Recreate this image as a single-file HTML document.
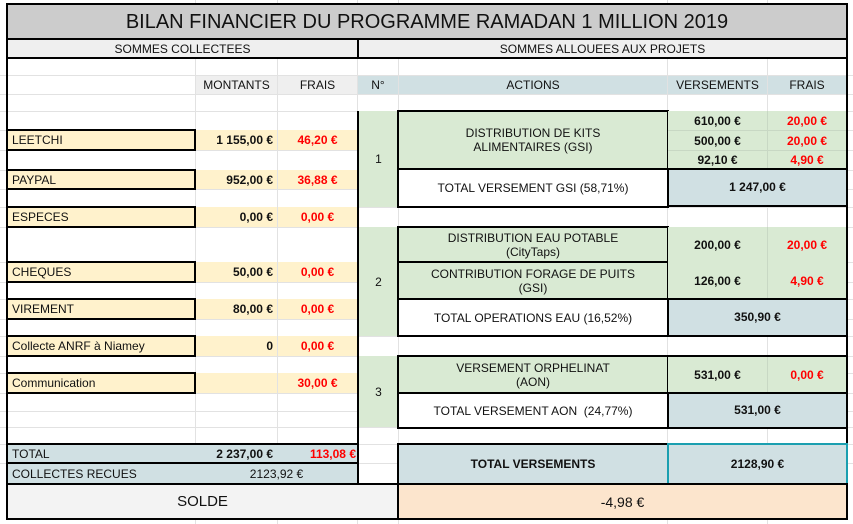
<!DOCTYPE html>
<html><head><meta charset="utf-8"><style>
body{margin:0;width:853px;height:524px;background:#fff;position:relative;overflow:hidden;font-family:"Liberation Sans",sans-serif;font-size:12px;color:#111}
div{position:absolute;box-sizing:border-box}
.c{display:flex;align-items:center;justify-content:center;text-align:center;line-height:14px}
.l{justify-content:flex-start;padding-left:4px}
.r{justify-content:flex-end;padding-right:4px}
.b{font-weight:bold}
.red{color:#f00;font-weight:bold}
.cr{background:#fff2cc}
.gr{background:#d9ead3}
.bl{background:#d0e0e3}
.lg{background:#efefef}
.k{border:2px solid #000}
.hl{height:1px;left:0;width:853px;background:#e2e2e2}
.vl{width:1px;top:0;height:524px;background:#e2e2e2}
</style></head><body>
<!-- grid -->
<div class="hl" style="top:75px"></div><div class="hl" style="top:94px"></div><div class="hl" style="top:111px"></div>
<div class="hl" style="top:130px"></div><div class="hl" style="top:150px"></div><div class="hl" style="top:170px"></div>
<div class="hl" style="top:189px"></div><div class="hl" style="top:207px"></div><div class="hl" style="top:227px"></div>
<div class="hl" style="top:262px"></div><div class="hl" style="top:282px"></div><div class="hl" style="top:299px"></div>
<div class="hl" style="top:319px"></div><div class="hl" style="top:336px"></div><div class="hl" style="top:356px"></div>
<div class="hl" style="top:373px"></div><div class="hl" style="top:393px"></div><div class="hl" style="top:411px"></div>
<div class="hl" style="top:427px"></div><div class="hl" style="top:444px"></div><div class="hl" style="top:463px"></div>
<div class="vl" style="left:195px"></div><div class="vl" style="left:277px"></div><div class="vl" style="left:357px"></div>
<div class="vl" style="left:398px"></div><div class="vl" style="left:667px"></div><div class="vl" style="left:767px"></div>

<!-- title -->
<div class="c k" style="left:6px;top:3px;width:842px;height:37px;background:#ccc;font-size:20px">BILAN FINANCIER DU PROGRAMME RAMADAN 1 MILLION 2019</div>
<div class="c k lg" style="left:6px;top:38px;width:353px;height:21px">SOMMES COLLECTEES</div>
<div class="c k lg" style="left:357px;top:38px;width:491px;height:21px">SOMMES ALLOUEES AUX PROJETS</div>
<!-- outer border -->
<div style="left:6px;top:57px;width:2px;height:463px;background:#000"></div>
<div style="left:846px;top:57px;width:2px;height:463px;background:#000"></div>

<!-- headers -->
<div class="c lg" style="left:196px;top:76px;width:81px;height:18px">MONTANTS</div>
<div class="c lg" style="left:278px;top:76px;width:79px;height:18px">FRAIS</div>
<div class="c bl" style="left:358px;top:76px;width:40px;height:18px">N°</div>
<div class="c bl" style="left:399px;top:76px;width:268px;height:18px">ACTIONS</div>
<div class="c bl" style="left:668px;top:76px;width:99px;height:18px">VERSEMENTS</div>
<div class="c bl" style="left:768px;top:76px;width:78px;height:18px">FRAIS</div>

<!-- left rows -->
<div class="c l cr k" style="left:6px;top:129px;width:190px;height:22px">LEETCHI</div>
<div class="c r b cr" style="left:196px;top:130px;width:81px;height:20px">1 155,00 €</div>
<div class="c red cr" style="left:278px;top:130px;width:79px;height:20px">46,20 €</div>
<div class="c l cr k" style="left:6px;top:169px;width:190px;height:21px">PAYPAL</div>
<div class="c r b cr" style="left:196px;top:170px;width:81px;height:19px">952,00 €</div>
<div class="c red cr" style="left:278px;top:170px;width:79px;height:19px">36,88 €</div>
<div class="c l cr k" style="left:6px;top:206px;width:190px;height:22px">ESPECES</div>
<div class="c r b cr" style="left:196px;top:207px;width:81px;height:20px">0,00 €</div>
<div class="c red cr" style="left:278px;top:207px;width:79px;height:20px">0,00 €</div>
<div class="c l cr k" style="left:6px;top:261px;width:190px;height:22px">CHEQUES</div>
<div class="c r b cr" style="left:196px;top:262px;width:81px;height:20px">50,00 €</div>
<div class="c red cr" style="left:278px;top:262px;width:79px;height:20px">0,00 €</div>
<div class="c l cr k" style="left:6px;top:298px;width:190px;height:22px">VIREMENT</div>
<div class="c r b cr" style="left:196px;top:299px;width:81px;height:20px">80,00 €</div>
<div class="c red cr" style="left:278px;top:299px;width:79px;height:20px">0,00 €</div>
<div class="c l cr k" style="left:6px;top:335px;width:190px;height:22px">Collecte ANRF à Niamey</div>
<div class="c r b cr" style="left:196px;top:336px;width:81px;height:20px">0</div>
<div class="c red cr" style="left:278px;top:336px;width:79px;height:20px">0,00 €</div>
<div class="c l cr k" style="left:6px;top:372px;width:190px;height:22px">Communication</div>
<div class="c r b cr" style="left:196px;top:373px;width:81px;height:20px"></div>
<div class="c red cr" style="left:278px;top:373px;width:79px;height:20px">30,00 €</div>

<!-- totals left -->
<div class="bl" style="left:6px;top:443px;width:353px;height:42px;border:2px solid #000"></div>
<div style="left:6px;top:462px;width:353px;height:2px;background:#000"></div>
<div class="c l" style="left:8px;top:445px;width:187px;height:18px">TOTAL</div>
<div class="c r b" style="left:196px;top:445px;width:81px;height:18px">2 237,00 €</div>
<div class="c r red" style="left:278px;top:445px;width:79px;height:18px;padding-right:1px">113,08 €</div>
<div class="c l" style="left:8px;top:464px;width:187px;height:19px">COLLECTES RECUES</div>
<div class="c" style="left:196px;top:464px;width:161px;height:19px">2123,92 €</div>
<div style="left:357px;top:111px;width:2px;height:374px;background:#000"></div>

<!-- group 1 -->
<div class="c gr" style="left:359px;top:111px;width:39px;height:96px">1</div>
<div class="c gr k" style="left:397px;top:110px;width:272px;height:60px">DISTRIBUTION DE KITS<br>ALIMENTAIRES (GSI)</div>
<div class="gr" style="left:668px;top:111px;width:178px;height:57px"></div>
<div class="hl" style="left:668px;top:130px;width:178px;background:#c8d8c4"></div>
<div class="hl" style="left:668px;top:150px;width:178px;background:#c8d8c4"></div>
<div class="vl" style="left:767px;top:111px;height:57px;background:#c8d8c4"></div>
<div class="c b" style="left:668px;top:111px;width:99px;height:19px">610,00 €</div>
<div class="c red" style="left:768px;top:111px;width:78px;height:19px">20,00 €</div>
<div class="c b" style="left:668px;top:131px;width:99px;height:19px">500,00 €</div>
<div class="c red" style="left:768px;top:131px;width:78px;height:19px">20,00 €</div>
<div class="c b" style="left:668px;top:151px;width:99px;height:17px">92,10 €</div>
<div class="c red" style="left:768px;top:151px;width:78px;height:17px">4,90 €</div>
<div class="c k" style="left:397px;top:168px;width:272px;height:40px;background:#fff">TOTAL VERSEMENT GSI (58,71%)</div>
<div class="c b bl" style="left:669px;top:169px;width:177px;height:38px;border-bottom:2px solid #000">1 247,00 €</div>
<div style="left:667px;top:168px;width:181px;height:2px;background:#000"></div>

<!-- group 2 -->
<div class="c gr" style="left:359px;top:227px;width:39px;height:109px">2</div>
<div class="c gr k" style="left:397px;top:226px;width:272px;height:37px">DISTRIBUTION EAU POTABLE<br>(CityTaps)</div>
<div class="c gr k" style="left:397px;top:261px;width:272px;height:39px">CONTRIBUTION FORAGE DE PUITS<br>(GSI)</div>
<div class="gr" style="left:668px;top:227px;width:178px;height:71px"></div>
<div class="vl" style="left:767px;top:227px;height:71px;background:#c8d8c4"></div>
<div class="c b" style="left:668px;top:227px;width:99px;height:36px">200,00 €</div>
<div class="c red" style="left:768px;top:227px;width:78px;height:36px">20,00 €</div>
<div class="c b" style="left:668px;top:263px;width:99px;height:35px">126,00 €</div>
<div class="c red" style="left:768px;top:263px;width:78px;height:35px">4,90 €</div>
<div class="c k" style="left:397px;top:298px;width:272px;height:39px;background:#fff">TOTAL OPERATIONS EAU (16,52%)</div>
<div class="c b bl" style="left:669px;top:299px;width:177px;height:38px;border-bottom:2px solid #000">350,90 €</div>
<div style="left:667px;top:298px;width:181px;height:2px;background:#000"></div>

<!-- group 3 -->
<div class="c gr" style="left:359px;top:356px;width:39px;height:71px">3</div>
<div class="c gr k" style="left:397px;top:355px;width:272px;height:39px">VERSEMENT ORPHELINAT<br>(AON)</div>
<div class="gr" style="left:668px;top:356px;width:178px;height:37px"></div>
<div class="vl" style="left:767px;top:356px;height:37px;background:#c8d8c4"></div>
<div class="c b" style="left:668px;top:356px;width:99px;height:37px">531,00 €</div>
<div class="c red" style="left:768px;top:356px;width:78px;height:37px">0,00 €</div>
<div class="c k" style="left:397px;top:392px;width:272px;height:37px;background:#fff">TOTAL VERSEMENT AON&nbsp; (24,77%)</div>
<div class="c b bl" style="left:669px;top:393px;width:177px;height:36px;border-bottom:2px solid #000">531,00 €</div>
<div style="left:667px;top:392px;width:181px;height:2px;background:#000"></div>
<div style="left:667px;top:355px;width:181px;height:2px;background:#000"></div>

<!-- total versements -->
<div class="c b bl k" style="left:397px;top:443px;width:272px;height:42px">TOTAL VERSEMENTS</div>
<div class="c b bl" style="left:667px;top:443px;width:181px;height:42px;border:2px solid #1a9fb0">2128,90 €</div>

<!-- solde -->
<div class="c k" style="left:6px;top:483px;width:393px;height:37px;background:#f3f3f3;font-size:15px">SOLDE</div>
<div class="c k" style="left:397px;top:483px;width:451px;height:37px;background:#fce5cd;font-size:14px">-4,98 €</div>
</body></html>
